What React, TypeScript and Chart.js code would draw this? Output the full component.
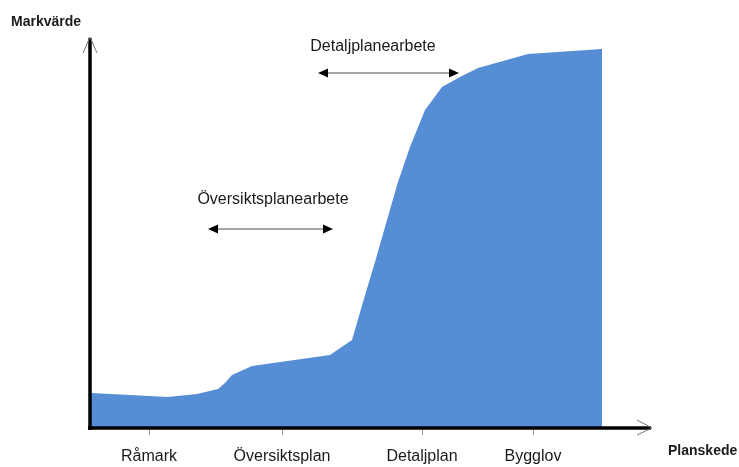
import React, { useEffect, useRef } from "react";
import { Chart, registerables } from "chart.js";

Chart.register(...registerables);

// Planning stage position (horizontal, arbitrary units) and land value (vertical, arbitrary units)
const stagePositions = [0, 39, 77, 106, 127, 134, 141, 161, 239, 261, 272, 284, 296, 307, 319, 334, 351, 369, 387, 437, 511];
const landValues = [35, 33, 31, 34, 39, 45, 53, 62, 73, 88, 126, 166, 208, 246, 281, 318, 341, 351, 360, 374, 379];

const stageLabels = ["Råmark", "Översiktsplan", "Detaljplan", "Bygglov"];
const stageTicks = [58, 191, 331, 442];

const xMax = 560;
const yMax = 390;

const phaseNames = ["Detaljplanearbete", "Översiktsplanearbete"];
const phaseStart = [227, 117];
const phaseEnd = [368, 242];
const phaseLevel = [355, 199];
const phaseTextCenter = [282, 182];
const phaseTextLevel = [381, 228];

const FONT = 'Arial, "Liberation Sans", sans-serif';

const decorPlugin = {
  id: "decor",
  afterDraw(chart: any) {
    const { ctx, chartArea, scales } = chart;
    const xs = scales.x;
    const ys = scales.y;
    ctx.save();

    // axes
    ctx.strokeStyle = "#000";
    ctx.lineWidth = 3.5;
    ctx.beginPath();
    ctx.moveTo(chartArea.left - 1, chartArea.bottom + 2);
    ctx.lineTo(chartArea.left - 1, chartArea.top);
    ctx.stroke();
    ctx.beginPath();
    ctx.moveTo(chartArea.left - 3, chartArea.bottom);
    ctx.lineTo(chartArea.right, chartArea.bottom);
    ctx.stroke();

    // open arrowheads
    ctx.strokeStyle = "#777";
    ctx.lineWidth = 1;
    ctx.beginPath();
    ctx.moveTo(chartArea.left - 8, chartArea.top + 15);
    ctx.lineTo(chartArea.left - 1, chartArea.top - 1);
    ctx.lineTo(chartArea.left + 6, chartArea.top + 15);
    ctx.stroke();
    ctx.beginPath();
    ctx.moveTo(chartArea.right - 14, chartArea.bottom - 8);
    ctx.lineTo(chartArea.right + 1, chartArea.bottom);
    ctx.lineTo(chartArea.right - 14, chartArea.bottom + 7);
    ctx.stroke();

    // axis titles
    ctx.fillStyle = "#1a1a1a";
    ctx.font = "bold 14px " + FONT;
    ctx.textAlign = "left";
    ctx.textBaseline = "middle";
    ctx.fillText("Markvärde", 11, 22);
    ctx.fillText("Planskede", 668, 451);

    // phase annotations
    ctx.font = "16px " + FONT;
    ctx.textAlign = "center";
    for (let i = 0; i < phaseNames.length; i++) {
      const x1 = xs.getPixelForValue(phaseStart[i]);
      const x2 = xs.getPixelForValue(phaseEnd[i]);
      const y = ys.getPixelForValue(phaseLevel[i]);
      ctx.fillStyle = "#1a1a1a";
      ctx.fillText(phaseNames[i], xs.getPixelForValue(phaseTextCenter[i]), ys.getPixelForValue(phaseTextLevel[i]));
      ctx.strokeStyle = "#888";
      ctx.lineWidth = 1.5;
      ctx.beginPath();
      ctx.moveTo(x1 + 6, y);
      ctx.lineTo(x2 - 6, y);
      ctx.stroke();
      ctx.fillStyle = "#000";
      ctx.beginPath();
      ctx.moveTo(x1, y);
      ctx.lineTo(x1 + 10, y - 4.5);
      ctx.lineTo(x1 + 10, y + 4.5);
      ctx.closePath();
      ctx.fill();
      ctx.beginPath();
      ctx.moveTo(x2, y);
      ctx.lineTo(x2 - 10, y - 4.5);
      ctx.lineTo(x2 - 10, y + 4.5);
      ctx.closePath();
      ctx.fill();
    }
    ctx.restore();
  },
};

export default function App() {
  const ref = useRef<HTMLCanvasElement>(null);
  useEffect(() => {
    if (!ref.current) return;
    const chart = new Chart(ref.current, {
      type: "line",
      data: {
        datasets: [
          {
            label: "Markvärde",
            data: stagePositions.map((x, i) => ({ x, y: landValues[i] })),
            fill: "origin",
            backgroundColor: "#558ED5",
            borderColor: "#558ED5",
            borderWidth: 0,
            pointRadius: 0,
            tension: 0,
          },
        ],
      },
      options: {
        responsive: false,
        animation: false,
        layout: { padding: { left: 91, right: 88, top: 38, bottom: 0 } },
        plugins: { legend: { display: false }, tooltip: { enabled: false } },
        scales: {
          x: {
            type: "linear",
            min: 0,
            max: xMax,
            afterFit(scale: any) {
              scale.height = 39;
            },
            afterBuildTicks(scale: any) {
              scale.ticks = stageTicks.map((v) => ({ value: v }));
            },
            border: { display: false },
            grid: { drawOnChartArea: false, drawTicks: true, tickLength: 7, color: "#999", lineWidth: 1 },
            ticks: {
              autoSkip: false,
              maxRotation: 0,
              padding: 12,
              color: "#1a1a1a",
              font: { family: FONT, size: 16 },
              callback: (value: any) => stageLabels[stageTicks.indexOf(Number(value))] ?? "",
            },
          },
          y: {
            type: "linear",
            display: false,
            min: 0,
            max: yMax,
          },
        },
      },
      plugins: [decorPlugin],
    });
    return () => chart.destroy();
  }, []);
  return (
    <div style={{ position: "absolute", left: 0, top: 0, width: 739, height: 467, background: "#fff" }}>
      <canvas ref={ref} width={739} height={467} style={{ display: "block" }} />
    </div>
  );
}
